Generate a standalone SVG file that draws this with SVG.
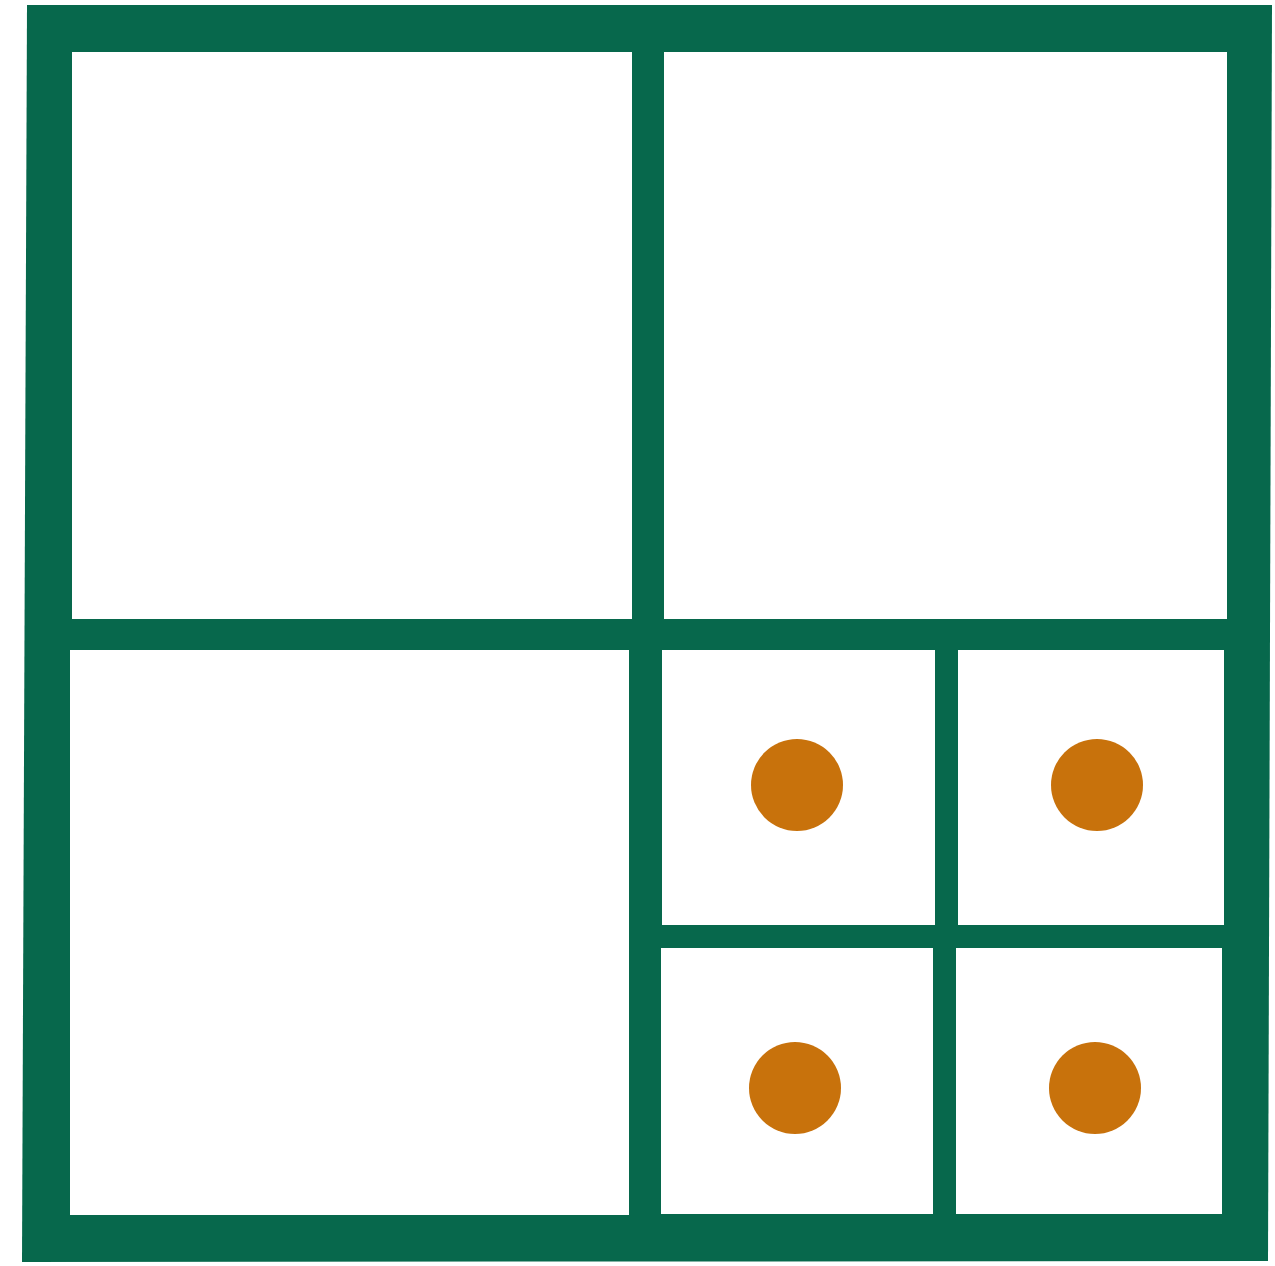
<svg xmlns="http://www.w3.org/2000/svg" width="1275" height="1266" viewBox="0 0 1275 1266">
<style>
.cell{fill:#ffffff}
.dot{fill:#C8720C}
</style>
<rect width="1275" height="1266" fill="#ffffff"/>
<g id="frame">
<polygon points="27,5 1272,5 1268,1261 22,1262" fill="#07684C"/>
</g>
<g id="cell-top-left"><rect class="cell" x="72" y="52" width="560" height="567"/></g>
<g id="cell-top-right"><rect class="cell" x="664" y="52" width="563" height="567"/></g>
<g id="cell-bottom-left"><rect class="cell" x="70" y="650" width="559" height="565"/></g>
<g id="cell-small-1"><rect class="cell" x="662" y="650" width="273" height="275"/><circle class="dot" cx="797" cy="785" r="46"/></g>
<g id="cell-small-2"><rect class="cell" x="958" y="650" width="266" height="275"/><circle class="dot" cx="1097" cy="785" r="46"/></g>
<g id="cell-small-3"><rect class="cell" x="661" y="948" width="272" height="266"/><circle class="dot" cx="795" cy="1088" r="46"/></g>
<g id="cell-small-4"><rect class="cell" x="956" y="948" width="266" height="266"/><circle class="dot" cx="1095" cy="1088" r="46"/></g>
<g id="connectors"></g>
</svg>
